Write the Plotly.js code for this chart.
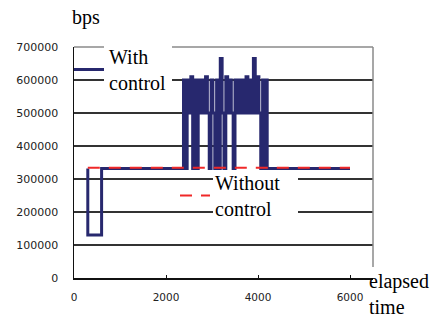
<!DOCTYPE html>
<html>
<head>
<meta charset="utf-8">
<script src="https://cdn.plot.ly/plotly-3.0.1.min.js"></script>
<style>html,body{margin:0;padding:0;background:#fff;}#chart{width:435px;height:320px;}</style>
</head>
<body>
<div id="chart"></div>
<script>
// ---- data ----
var withControlX = [300, 300, 600,
  2380, 2420, 2460, 2500, 2540, 2580, 2620, 2660, 2700, 2740,
  2780, 2820, 2860, 2900, 2940, 2980, 3020, 3060, 3100, 3140,
  3180, 3220, 3260, 3300, 3340, 3380, 3420, 3460, 3500, 3540,
  3580, 3620, 3660, 3700, 3740, 3780, 3820, 3860, 3900, 3940,
  3980, 4020, 4060, 4100, 4140, 4180,
  4200, 6000];
var withControlY = [332000, 130000, 332000,
  600000, 332000, 600000, 500000, 610000, 332000, 600000, 332000, 600000, 500000,
  600000, 500000, 610000, 500000, 332000, 600000, 500000, 332000, 600000, 332000,
  665000, 500000, 332000, 610000, 500000, 600000, 500000, 332000, 600000, 500000,
  600000, 500000, 600000, 500000, 610000, 500000, 600000, 500000, 665000, 500000,
  610000, 500000, 332000, 600000, 332000, 600000,
  332000, 332000];
var withoutControlX = [300, 6000];
var withoutControlY = [334000, 334000];

var seriesNames = ['With<br>control', 'Without<br>control'];
var xTickVals = [0, 2000, 4000, 6000];
var xTickText = ['0', '2000', '4000', '6000'];
var yTickVals = [0, 100000, 200000, 300000, 400000, 500000, 600000, 700000];
var yTickText = ['0', '100000', '200000', '300000', '400000', '500000', '600000', '700000'];

// ---- helpers for pixel -> paper conversion (plot area 74..373 x 47..278) ----
function px(x) { return (x - 74) / 299; }
function py(y) { return (278 - y) / 231; }

var serif = 'Liberation Serif';
var sans = 'DejaVu Sans';

var traces = [
  {
    x: withControlX, y: withControlY, type: 'scatter', mode: 'lines',
    name: seriesNames[0], line: {color: '#27286e', width: 3, shape: 'hv'},
    legend: 'legend'
  },
  {
    x: withoutControlX, y: withoutControlY, type: 'scatter', mode: 'lines',
    name: seriesNames[1], line: {color: '#f02828', width: 2, dash: '12px,9px'},
    legend: 'legend2'
  }
];

var layout = {
  width: 435, height: 320,
  margin: {l: 74, r: 62, t: 47, b: 42},
  paper_bgcolor: '#fff', plot_bgcolor: '#fff',
  font: {family: serif},
  showlegend: true,
  xaxis: {
    range: [0, 6500], tickvals: xTickVals, ticktext: xTickText,
    showgrid: false, zeroline: false, showline: true, linecolor: '#111', linewidth: 1.5,
    ticks: 'inside', ticklen: 3, tickcolor: '#111',
    tickfont: {family: sans, size: 10.5, color: '#222'},
    ticklabelstandoff: 9
  },
  yaxis: {
    range: [0, 700000], tickvals: yTickVals, ticktext: yTickText,
    showgrid: true, gridcolor: '#333', gridwidth: 1.3,
    zeroline: false, showline: true, linecolor: '#111', linewidth: 1.5,
    ticks: '', tickfont: {family: sans, size: 11, color: '#222'},
    ticklabelstandoff: 12
  },
  legend: {
    x: px(69), xanchor: 'left', y: py(37), yanchor: 'top',
    bgcolor: 'rgba(0,0,0,0)', borderwidth: 0,
    font: {family: serif, size: 20, color: '#000'}, itemwidth: 30
  },
  legend2: {
    x: px(175), xanchor: 'left', y: py(163), yanchor: 'top',
    bgcolor: 'rgba(0,0,0,0)', borderwidth: 0,
    font: {family: serif, size: 20, color: '#000'}, itemwidth: 30
  },
  shapes: [
    {type: 'line', xref: 'paper', yref: 'paper', x0: 0, x1: 1, y0: 1, y1: 1,
     line: {color: '#8a8a8a', width: 1.5}, layer: 'above'},
    {type: 'line', xref: 'paper', yref: 'paper', x0: 1, x1: 1, y0: py(267), y1: 1,
     line: {color: '#8a8a8a', width: 1.5}, layer: 'above'},
    {type: 'rect', xref: 'paper', yref: 'paper', x0: px(104), x1: px(172), y0: py(94), y1: py(40),
     fillcolor: '#fff', line: {width: 0}, layer: 'above'},
    {type: 'rect', xref: 'paper', yref: 'paper', x0: px(213), x1: px(298), y0: py(220), y1: py(172),
     fillcolor: '#fff', line: {width: 0}, layer: 'above'}
  ],
  annotations: [
    {text: 'bps', xref: 'paper', yref: 'paper', x: px(70), y: py(4), xanchor: 'left', yanchor: 'top',
     showarrow: false, font: {family: serif, size: 20, color: '#000'}},
    {text: 'elapsed<br>time', xref: 'paper', yref: 'paper', x: px(367), y: py(268), xanchor: 'left', yanchor: 'top',
     align: 'left', showarrow: false, font: {family: serif, size: 20, color: '#000'}}
  ]
};

Plotly.newPlot('chart', traces, layout, {staticPlot: true, displayModeBar: false});
</script>
</body>
</html>
